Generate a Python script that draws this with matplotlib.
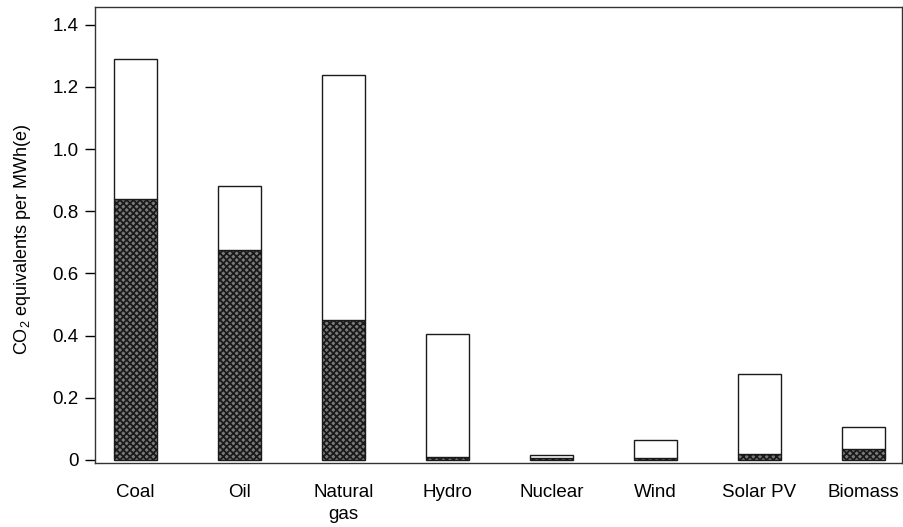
import matplotlib
matplotlib.use("Agg")
import matplotlib.pyplot as plt
import numpy as np

categories = ["Coal", "Oil", "Natural\ngas", "Hydro", "Nuclear", "Wind", "Solar PV", "Biomass"]
direct = [0.84, 0.675, 0.45, 0.01, 0.005, 0.007, 0.02, 0.034]
total = [1.289, 0.88, 1.237, 0.405, 0.015, 0.063, 0.275, 0.107]
yticks = [0, 0.2, 0.4, 0.6, 0.8, 1.0, 1.2, 1.4]
ytick_labels = ["0", "0.2", "0.4", "0.6", "0.8", "1.0", "1.2", "1.4"]

plt.rcParams['font.family'] = ['Liberation Sans', 'DejaVu Sans']
plt.rcParams['mathtext.fontset'] = 'custom'
plt.rcParams['mathtext.rm'] = 'Liberation Sans'
plt.rcParams['hatch.linewidth'] = 1.3
plt.rcParams['hatch.color'] = '#1a1a1a'

fig = plt.figure(figsize=(9.04, 5.27), dpi=100)
ax = fig.add_axes([95/904, 64/527, 807/904, 456/527])

x = np.arange(len(categories))
upper = [t - d for t, d in zip(total, direct)]
ax.bar(x, direct, width=0.41, color='#7a7a7a', edgecolor='#1a1a1a', hatch='xxxxx', linewidth=1.0)
ax.bar(x, upper, bottom=direct, width=0.41, color='white', edgecolor='#1a1a1a', linewidth=1.0)

ax.set_xlim(-0.39, 7.37)
ax.set_ylim(-0.01, 1.457)
ax.set_yticks(yticks)
ax.set_yticklabels(ytick_labels, fontsize=13.5)
ax.set_xticks(x)
ax.set_xticklabels(categories, fontsize=13.5, linespacing=1.4)
ax.tick_params(axis='x', length=0, pad=15)
ax.tick_params(axis='y', length=7, width=1, direction='out', pad=5)
for s in ax.spines.values():
    s.set_linewidth(1.0)
    s.set_color('#333333')
ax.set_ylabel("CO$_\\mathrm{2}$ equivalents per MWh(e)", fontsize=13)
ax.yaxis.set_label_coords(-0.077, 0.49)

fig.savefig("out.png", dpi=100)
